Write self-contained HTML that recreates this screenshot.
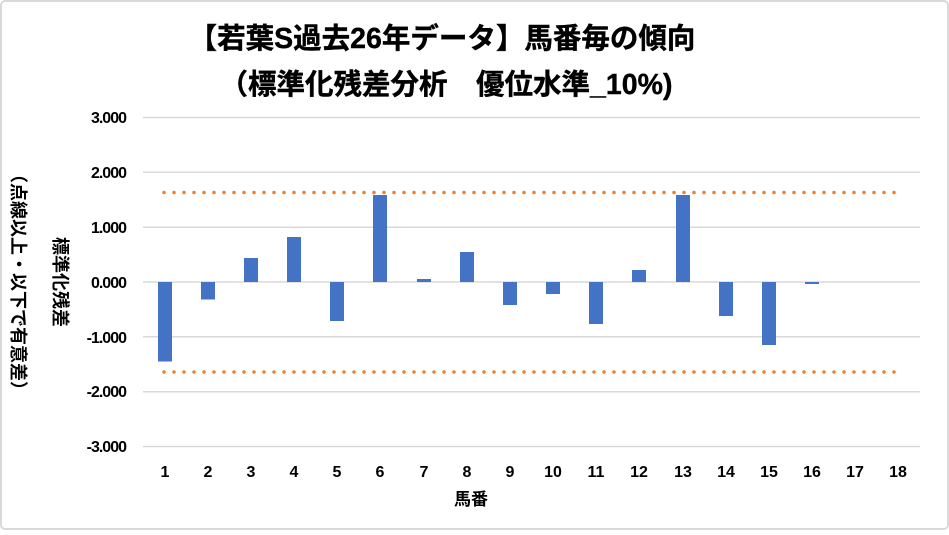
<!DOCTYPE html>
<html><head><meta charset="utf-8"><style>
body{margin:0;background:#fff;}
svg text{font-family:"Liberation Sans","Noto Sans CJK JP",sans-serif;font-weight:bold;fill:#000;}
</style></head><body>
<svg width="949" height="530" xmlns="http://www.w3.org/2000/svg">
<rect x="1" y="1" width="947" height="528" rx="4" fill="#fff" stroke="#d9d9d9" stroke-width="2"/>
<text x="442" y="48" font-size="28.5" text-anchor="middle" stroke="#000" stroke-width="0.4">【若葉S過去26年データ】馬番毎の傾向</text>
<text x="446" y="94" font-size="28.5" text-anchor="middle" stroke="#000" stroke-width="0.4">（標準化残差分析　優位水準_10%)</text>
<g stroke="#d9d9d9" stroke-width="1.5">
<line x1="143" x2="920" y1="117.5" y2="117.5"/>
<line x1="143" x2="920" y1="172.3" y2="172.3"/>
<line x1="143" x2="920" y1="227.2" y2="227.2"/>
<line x1="143" x2="920" y1="282" y2="282"/>
<line x1="143" x2="920" y1="336.8" y2="336.8"/>
<line x1="143" x2="920" y1="391.7" y2="391.7"/>
<line x1="143" x2="920" y1="446.5" y2="446.5"/>
</g>
<g font-size="16" text-anchor="end" letter-spacing="-1">
<text x="126" y="123">3.000</text>
<text x="126" y="178">2.000</text>
<text x="126" y="233">1.000</text>
<text x="126" y="288">0.000</text>
<text x="126" y="343">-1.000</text>
<text x="126" y="397">-2.000</text>
<text x="126" y="452">-3.000</text>
</g>
<g fill="#4472c4">
<rect x="158" y="282" width="14" height="79.5"/>
<rect x="201" y="282" width="14" height="17.5"/>
<rect x="244" y="258" width="14" height="24"/>
<rect x="287" y="237" width="14" height="45"/>
<rect x="330" y="282" width="14" height="39"/>
<rect x="373" y="195" width="14" height="87"/>
<rect x="417" y="279" width="14" height="3"/>
<rect x="460" y="252" width="14" height="30"/>
<rect x="503" y="282" width="14" height="23"/>
<rect x="546" y="282" width="14" height="12"/>
<rect x="589" y="282" width="14" height="42"/>
<rect x="632" y="270" width="14" height="12"/>
<rect x="676" y="195" width="14" height="87"/>
<rect x="719" y="282" width="14" height="34"/>
<rect x="762" y="282" width="14" height="63"/>
<rect x="805" y="282" width="14" height="2"/>
</g>
<g stroke="#ed7d31" stroke-width="3.5" stroke-linecap="round" stroke-dasharray="0 10">
<line x1="164" x2="898" y1="192.5" y2="192.5"/>
<line x1="164" x2="898" y1="372" y2="372"/>
</g>
<g font-size="16" text-anchor="middle">
<text x="165" y="477">1</text><text x="208" y="477">2</text><text x="251" y="477">3</text>
<text x="294" y="477">4</text><text x="337" y="477">5</text><text x="380" y="477">6</text>
<text x="424" y="477">7</text><text x="467" y="477">8</text><text x="510" y="477">9</text>
<text x="553" y="477">10</text><text x="596" y="477">11</text><text x="639" y="477">12</text>
<text x="683" y="477">13</text><text x="726" y="477">14</text><text x="769" y="477">15</text>
<text x="812" y="477">16</text><text x="855" y="477">17</text><text x="898" y="477">18</text>
</g>
<text x="471" y="505" font-size="17" text-anchor="middle">馬番</text>
<text transform="translate(54,282) rotate(90)" font-size="18" text-anchor="middle">標準化残差</text>
<text transform="translate(12,282) rotate(90)" font-size="18" text-anchor="middle">（点線以上・以下で有意差）</text>
</svg>
</body></html>
